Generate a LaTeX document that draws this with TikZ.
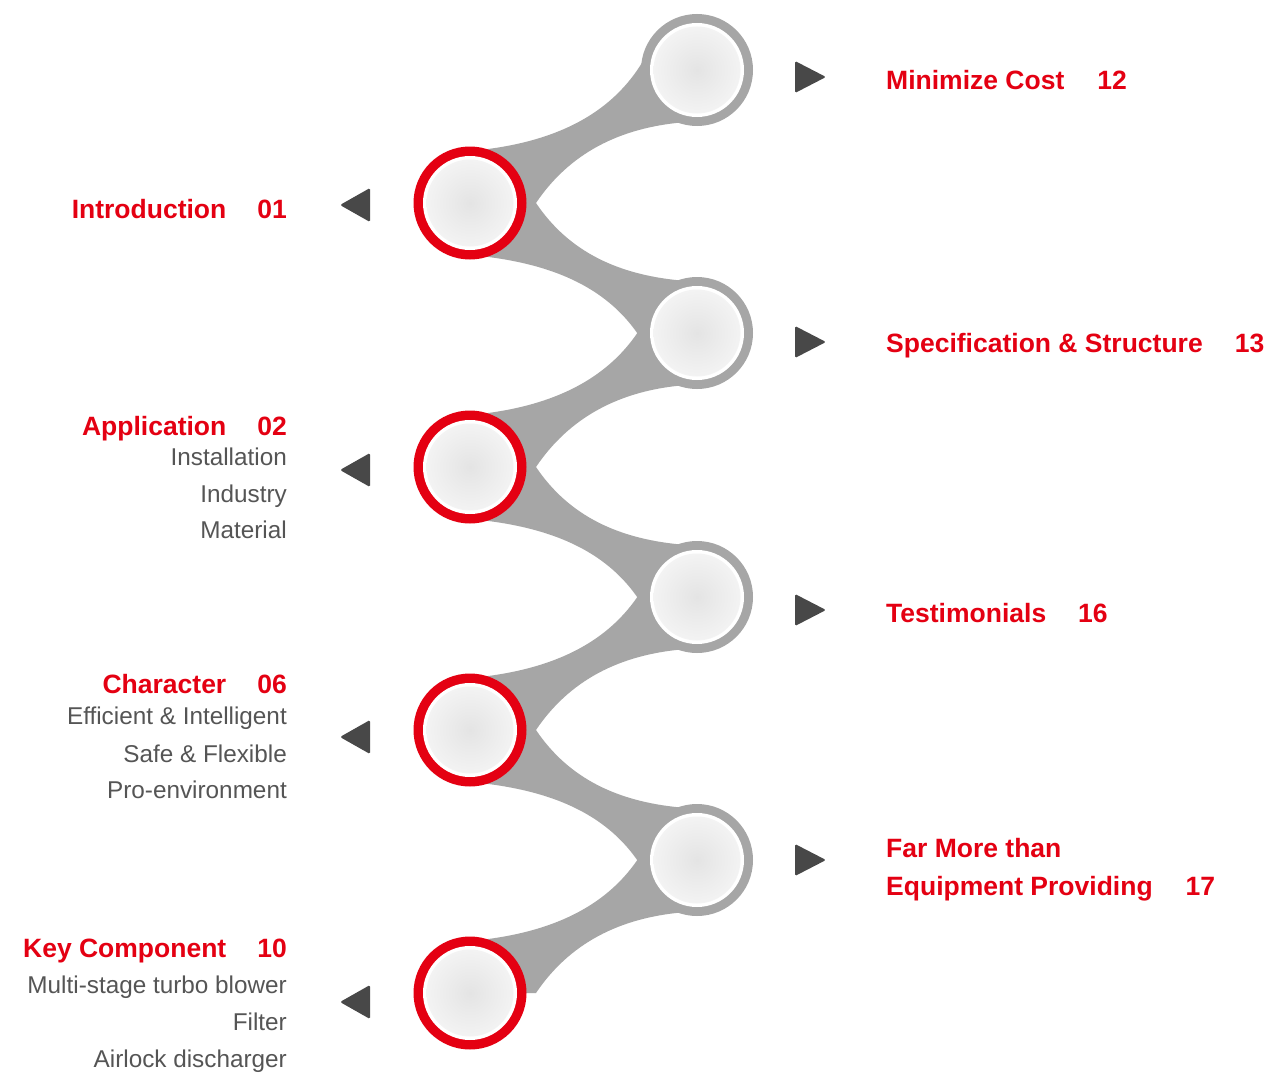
\documentclass[tikz,border=0pt]{standalone}
\usepackage{fontspec}
\setmainfont{Liberation Sans}
\usetikzlibrary{calc}
\definecolor{redc}{RGB}{228,0,18}
\definecolor{bandc}{RGB}{166,166,166}
\definecolor{subc}{RGB}{85,85,85}
\definecolor{tric}{RGB}{72,72,72}
\definecolor{discin}{RGB}{228,228,228}
\definecolor{discout}{RGB}{243,243,243}
\newcommand\mylinkup[2]{%
  \fill[band] ($(#1)+(0,-52)$) .. controls ($(#1)+(90,-60)$) and ($(#2)+(-72,40)$) .. ($(#2)+(-42,-33)$)
    -- (#2) -- ($(#2)+(-10,52)$) .. controls ($(#2)+(-78,57)$) and ($(#1)+(99,-49)$) .. ($(#1)+(66,0)$)
    -- (#1) -- cycle;}
\newcommand\mylinkdown[2]{%
  \fill[band] ($(#1)+(0,52)$) .. controls ($(#1)+(90,60)$) and ($(#2)+(-72,-40)$) .. ($(#2)+(-42,33)$)
    -- (#2) -- ($(#2)+(-10,-52)$) .. controls ($(#2)+(-78,-57)$) and ($(#1)+(99,49)$) .. ($(#1)+(66,0)$)
    -- (#1) -- cycle;}
\begin{document}
\begin{tikzpicture}[x=1pt,y=-1pt,
  band/.style={fill=bandc},
  title/.style={text=redc,font=\fontsize{26.5}{30}\selectfont\bfseries,inner sep=0pt},
  sub/.style={text=subc,font=\fontsize{24.3}{28}\selectfont,inner sep=0pt},
  tri/.style={fill=tric,rounded corners=1.5pt}]
\useasboundingbox[fill=white] (0,0) rectangle (1278,1073);
\coordinate (R0) at (697,70);
\coordinate (R1) at (697,333);
\coordinate (R2) at (697,597);
\coordinate (R3) at (697,860);
\coordinate (L0) at (470,203);
\coordinate (L1) at (470,467);
\coordinate (L2) at (470,730);
\coordinate (L3) at (470,993);
% ribbon
\mylinkup{L0}{R0}
\mylinkdown{L0}{R1}
\mylinkup{L1}{R1}
\mylinkdown{L1}{R2}
\mylinkup{L2}{R2}
\mylinkdown{L2}{R3}
\mylinkup{L3}{R3}
% right circles
\foreach \c in {R0,R1,R2,R3}{
  \fill[bandc] (\c) circle (56pt);
  \fill[white] (\c) circle (47pt);
  \shade[inner color=discin,outer color=discout] (\c) circle (43.5pt);
}
% left circles
\foreach \c in {L0,L1,L2,L3}{
  \fill[redc] (\c) circle (56.5pt);
  \fill[white] (\c) circle (47pt);
  \shade[inner color=discin,outer color=discout] (\c) circle (43.5pt);
}
% triangles
\foreach \y in {205,470,737,1002}{
  \fill[tri] (370,\y-17) -- (340,\y) -- (370,\y+17) -- cycle;
}
\foreach \y in {77,342,610,860}{
  \fill[tri] (795,\y-16) -- (826,\y) -- (795,\y+16) -- cycle;
}
% right labels
\node[title,anchor=base west] (t12) at (886,90) {Minimize Cost\hspace{33pt}12};
\node[title,anchor=base west] (t13) at (886,352) {Specification \& Structure\hspace{32pt}13};
\node[title,anchor=base west] (t16) at (886,622) {Testimonials\hspace{32pt}16};
\node[title,anchor=base west] (t17a) at (886,857) {Far More than};
\node[title,anchor=base west] (t17) at (886,895) {Equipment Providing\hspace{33pt}17};
% left labels
\node[title,anchor=base east] (t01) at (287,218) {Introduction\hspace{31pt}01};
\node[title,anchor=base east] (t02) at (287,435) {Application\hspace{31pt}02};
\node[sub,anchor=base east] (s02a) at (287,465) {Installation};
\node[sub,anchor=base east] (s02b) at (287,502) {Industry};
\node[sub,anchor=base east] (s02c) at (287,538) {Material};
\node[title,anchor=base east] (t06) at (287,693) {Character\hspace{31pt}06};
\node[sub,anchor=base east] (s06a) at (287,724) {Efficient \& Intelligent};
\node[sub,anchor=base east] (s06b) at (287,762) {Safe \& Flexible};
\node[sub,anchor=base east] (s06c) at (287,798) {Pro-environment};
\node[title,anchor=base east] (t10) at (287,957) {Key Component\hspace{31pt}10};
\node[sub,anchor=base east] (s10a) at (287,993) {Multi-stage turbo blower};
\node[sub,anchor=base east] (s10b) at (287,1030) {Filter};
\node[sub,anchor=base east] (s10c) at (287,1067) {Airlock discharger};
\end{tikzpicture}
\end{document}
